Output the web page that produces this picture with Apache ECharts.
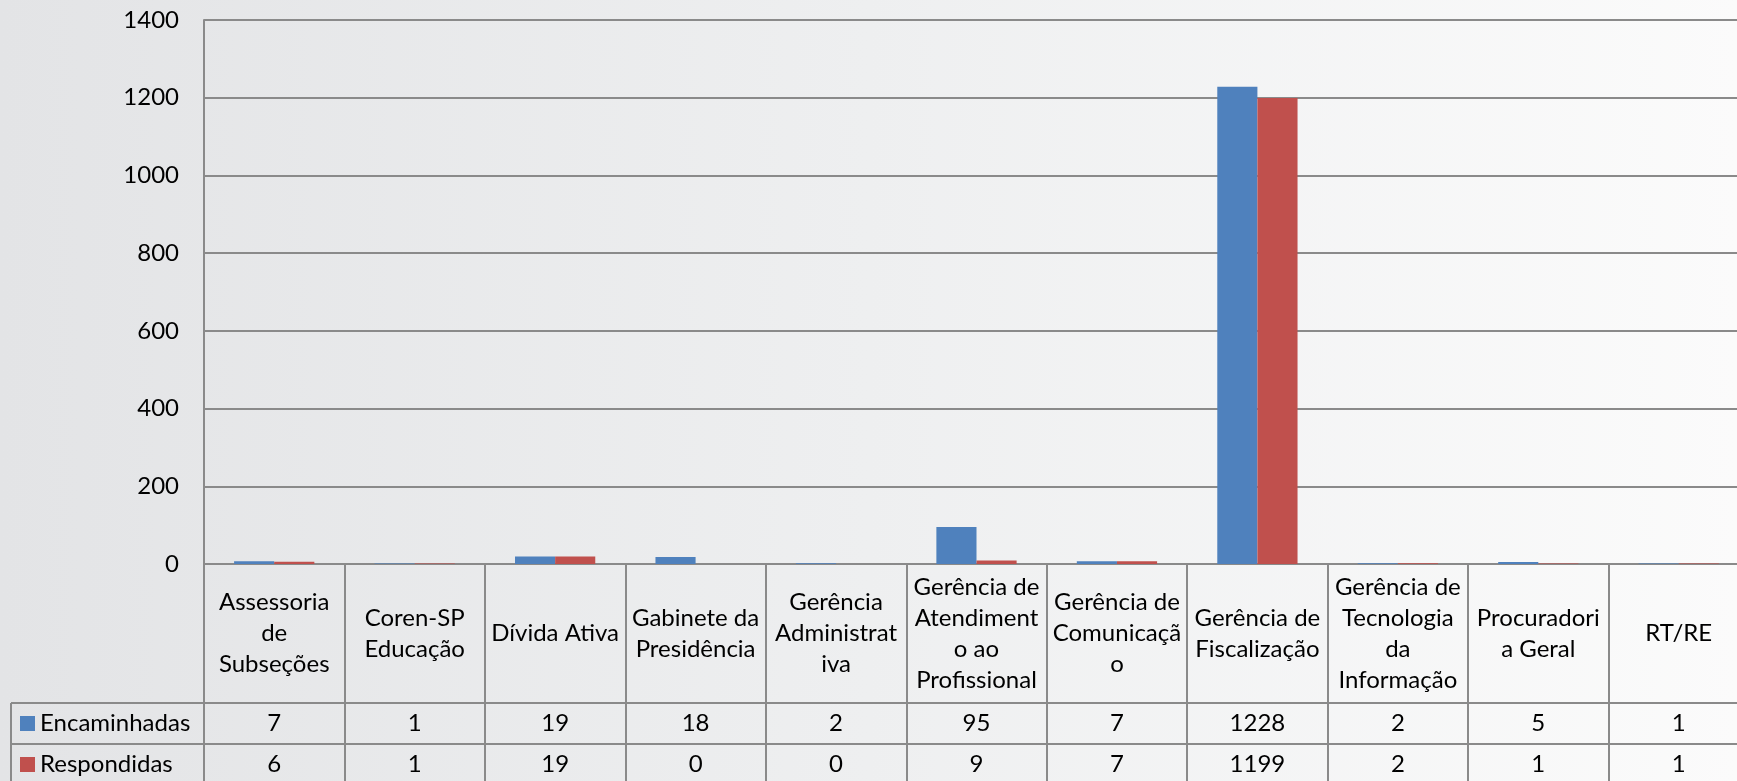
<!DOCTYPE html>
<html>
<head>
<meta charset="utf-8">
<script src="https://cdn.jsdelivr.net/npm/echarts@6/dist/echarts.min.js"></script>
<style>
  html, body { margin: 0; padding: 0; }
  #chart { width: 1737px; height: 781px; background: linear-gradient(to right, #e3e4e6 0%, #eeeff0 50%, #fbfbfb 100%); }
</style>
</head>
<body>
<div id="chart"></div>
<script>
const categories = ['Assessoria de Subseções', 'Coren-SP Educação', 'Dívida Ativa', 'Gabinete da Presidência', 'Gerência Administrativa', 'Gerência de Atendimento ao Profissional', 'Gerência de Comunicação', 'Gerência de Fiscalização', 'Gerência de Tecnologia da Informação', 'Procuradoria Geral', 'RT/RE'];
const categoryLabels = ['Assessoria\nde\nSubseções', 'Coren-SP\nEducação', 'Dívida Ativa', 'Gabinete da\nPresidência', 'Gerência\nAdministrat\niva', 'Gerência de\nAtendiment\no ao\nProfissional', 'Gerência de\nComunicaçã\no', 'Gerência de\nFiscalização', 'Gerência de\nTecnologia\nda\nInformação', 'Procuradori\na Geral', 'RT/RE'];
const seriesNames = ['Encaminhadas', 'Respondidas'];
const encaminhadas = [7, 1, 19, 18, 2, 95, 7, 1228, 2, 5, 1];
const respondidas = [6, 1, 19, 0, 0, 9, 7, 1199, 2, 1, 1];
const yMin = 0, yMax = 1400, yStep = 200;

const FONT = 'Lato';
const FS = 24;
const GRID = '#8a8a8a';
const gridLeft = 204, gridTop = 20, gridWidth = 1545, gridHeight = 544;
const headerH = 139, rowH = 41;

const chart = echarts.init(document.getElementById('chart'));

function valueAxis(arr, margin) {
  return {
    type: 'category', gridIndex: 0, position: 'bottom', data: categories,
    axisLine: { show: false }, axisTick: { show: false }, splitLine: { show: false },
    axisLabel: {
      interval: 0, margin: margin, verticalAlign: 'middle', fontFamily: FONT, fontSize: FS, color: '#000',
      formatter: (v, i) => String(arr[i])
    }
  };
}

function legendRow(name, top) {
  return {
    orient: 'horizontal', left: 20, top: top, padding: 0,
    itemWidth: 15, itemHeight: 15, icon: 'rect',
    textStyle: { fontFamily: FONT, fontSize: FS, color: '#000' },
    data: [name], selectedMode: false
  };
}

chart.setOption({
  backgroundColor: 'transparent',
  textStyle: { fontFamily: FONT },
  animation: false,
  grid: { left: gridLeft, top: gridTop, width: gridWidth, height: gridHeight, containLabel: false, outerBoundsMode: 'none' },
  legend: [
    legendRow(seriesNames[0], gridTop + gridHeight + headerH + rowH / 2 - 12),
    legendRow(seriesNames[1], gridTop + gridHeight + headerH + rowH + rowH / 2 - 12)
  ],
  xAxis: [
    {
      type: 'category', gridIndex: 0, position: 'bottom', data: categories,
      axisLine: { show: true, lineStyle: { color: GRID, width: 2 } },
      axisTick: { show: true, interval: 0, length: 230, lineStyle: { color: GRID, width: 2 } },
      axisLabel: {
        interval: 0, margin: headerH / 2, verticalAlign: 'middle', align: 'center',
        fontFamily: FONT, fontSize: FS, lineHeight: 31, color: '#000',
        formatter: (v, i) => categoryLabels[i]
      }
    },
    valueAxis(encaminhadas, headerH + rowH / 2),
    valueAxis(respondidas, headerH + rowH + rowH / 2)
  ],
  yAxis: {
    type: 'value', min: yMin, max: yMax, interval: yStep,
    axisLine: { show: true, lineStyle: { color: GRID, width: 2 } },
    axisTick: { show: false },
    axisLabel: { margin: 25, fontFamily: FONT, fontSize: FS, color: '#000', formatter: v => String(v) },
    splitLine: { show: true, lineStyle: { color: GRID, width: 2 } }
  },
  series: [
    { name: seriesNames[0], type: 'bar', xAxisIndex: 0, data: encaminhadas, barGap: '0%', barCategoryGap: '42.86%',
      itemStyle: { color: '#4f81bd' } },
    { name: seriesNames[1], type: 'bar', xAxisIndex: 0, data: respondidas, barGap: '0%', barCategoryGap: '42.86%',
      itemStyle: { color: '#c0504d' } }
  ]
});

// table borders derived from the axis position
const y0 = Math.round(chart.convertToPixel({ yAxisIndex: 0 }, 0));
const tableLeft = 11;
const xr = gridLeft + gridWidth;
const line = (x1, y1, x2, y2) => ({ type: 'line', silent: true, shape: { x1, y1, x2, y2 }, style: { stroke: GRID, lineWidth: 2 } });
chart.setOption({
  graphic: [
    line(tableLeft, y0 + headerH, xr, y0 + headerH),
    line(tableLeft, y0 + headerH + rowH, xr, y0 + headerH + rowH),
    line(tableLeft, y0 + headerH + 2 * rowH, xr, y0 + headerH + 2 * rowH),
    line(tableLeft, y0 + headerH, tableLeft, y0 + headerH + 2 * rowH + 10)
  ]
});
</script>
</body>
</html>
